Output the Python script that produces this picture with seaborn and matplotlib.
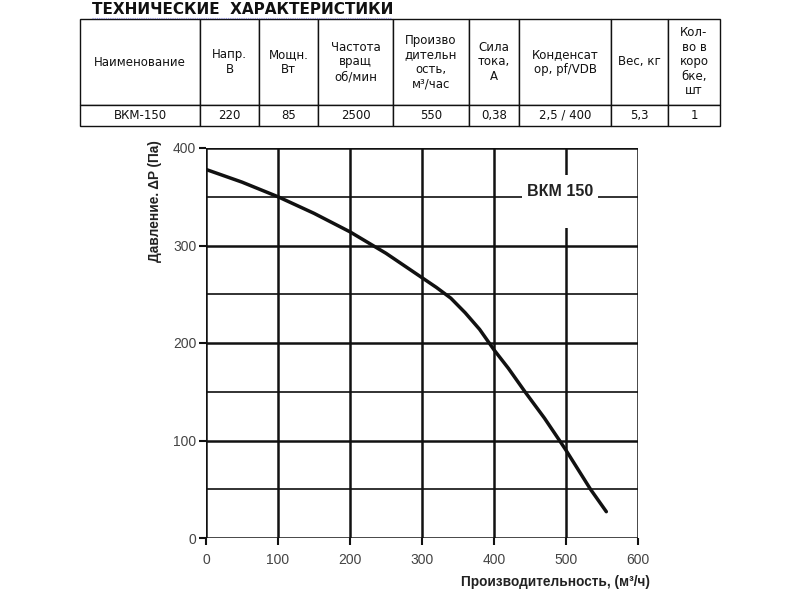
import matplotlib
matplotlib.use("Agg")
import matplotlib.pyplot as plt
from matplotlib.patches import Rectangle
import seaborn as sns
import pandas as pd

# ---------------- data ----------------
title = "ТЕХНИЧЕСКИЕ  ХАРАКТЕРИСТИКИ"
table_headers = ["Наименование", "Напр.\nВ", "Мощн.\nВт", "Частота\nвращ\nоб/мин",
                 "Произво\nдительн\nость,\nм³/час", "Сила\nтока,\nА",
                 "Конденсат\nор, pf/VDB", "Вес, кг", "Кол-\nво в\nкоро\nбке,\nшт"]
table_values = ["ВКМ-150", "220", "85", "2500", "550", "0,38", "2,5 / 400", "5,3", "1"]

flow = [0, 50, 100, 150, 200, 250, 300, 320, 340, 360, 380, 400, 420, 443, 470, 491, 500, 534, 556]
pressure = [378, 365, 350, 333, 314, 292, 267, 257, 246, 231, 214, 193, 174, 150, 123, 100, 90, 50, 27]

x_ticks = [0, 100, 200, 300, 400, 500, 600]
y_ticks = [0, 100, 200, 300, 400]
y_minor = [50, 150, 250, 350]
series_label = "ВКМ 150"
x_label = "Производительность, (м³/ч)"
y_label = "Давление. ΔP (Па)"

# ---------------- figure ----------------
sns.set_style("white")
plt.rcParams['font.family'] = ['Liberation Sans', 'DejaVu Sans']

W, H = 800, 600
fig = plt.figure(figsize=(8, 6), dpi=100)

# title
fig.text(92 / W, 1 - 10 / H, title, fontsize=11, fontweight='bold',
         family=['DejaVu Sans'], ha='left', va='center', color='#111111')
fig.lines.append(plt.Line2D([92 / W, 392 / W], [1 - 17.5 / H, 1 - 17.5 / H],
                            transform=fig.transFigure, color='#8a8ad8', lw=0.8,
                            linestyle=(0, (1, 1))))

# table
col_edges = [80, 200, 259, 318, 393, 469, 519, 611, 668, 720]
tax = fig.add_axes([80 / W, 1 - 126 / H, (720 - 80) / W, (126 - 19) / H])
tax.axis('off')
widths = [(col_edges[i + 1] - col_edges[i]) / (720 - 80) for i in range(len(col_edges) - 1)]
tbl = tax.table(cellText=[table_headers, table_values], colWidths=widths,
                cellLoc='center', bbox=[0, 0, 1, 1])
tbl.auto_set_font_size(False)
for (r, c), cell in tbl.get_celld().items():
    cell.set_height(86 if r == 0 else 21)
    cell.set_linewidth(1.0)
    cell.set_edgecolor('#111111')
    cell.get_text().set_fontsize(8.5)
    cell.get_text().set_family(['DejaVu Sans'])
    cell.get_text().set_color('#111111')
    cell.get_text().set_linespacing(1.15)

# chart
ax = fig.add_axes([206 / W, 1 - 538 / H, (638 - 206) / W, (538 - 148) / H])
df = pd.DataFrame({"flow": flow, "pressure": pressure})
ax.set_xlim(0, 600)
ax.set_ylim(0, 400)

for yv in y_minor:
    ax.axhline(yv, color='#222222', lw=1.3, zorder=1)
for yv in y_ticks:
    ax.axhline(yv, color='#111111', lw=1.8, zorder=1)
for xv in x_ticks:
    ax.axvline(xv, color='#111111', lw=1.8, zorder=1)

# label box covering gridlines
ax.add_patch(Rectangle((439, 318), 105, 54, facecolor='white', edgecolor='none', zorder=2))
ax.text(492, 355, series_label, fontsize=11.5, fontweight='bold', ha='center', va='center',
        color='#222222', zorder=3)

sns.lineplot(data=df, x="flow", y="pressure", ax=ax, color='#111111', lw=2.5, zorder=4)

ax.set_xticks(x_ticks)
ax.set_yticks(y_ticks)
ax.tick_params(axis='both', which='major', bottom=True, left=True, length=5, width=1.5,
               color='#111111', labelsize=10, labelcolor='#444444', pad=2, direction='out')
ax.tick_params(axis='x', pad=6)
ax.set_xlabel("")
ax.set_ylabel("")
for s in ax.spines.values():
    s.set_visible(False)

fig.text(650 / W, 1 - 582 / H, x_label, fontsize=9.8, fontweight='bold', ha='right',
         va='center', color='#222222')
fig.text(155 / W, 1 - 140 / H, y_label, fontsize=9.8, fontweight='bold', ha='center',
         va='top', rotation=90, color='#222222')

fig.savefig("out.png", dpi=100)
